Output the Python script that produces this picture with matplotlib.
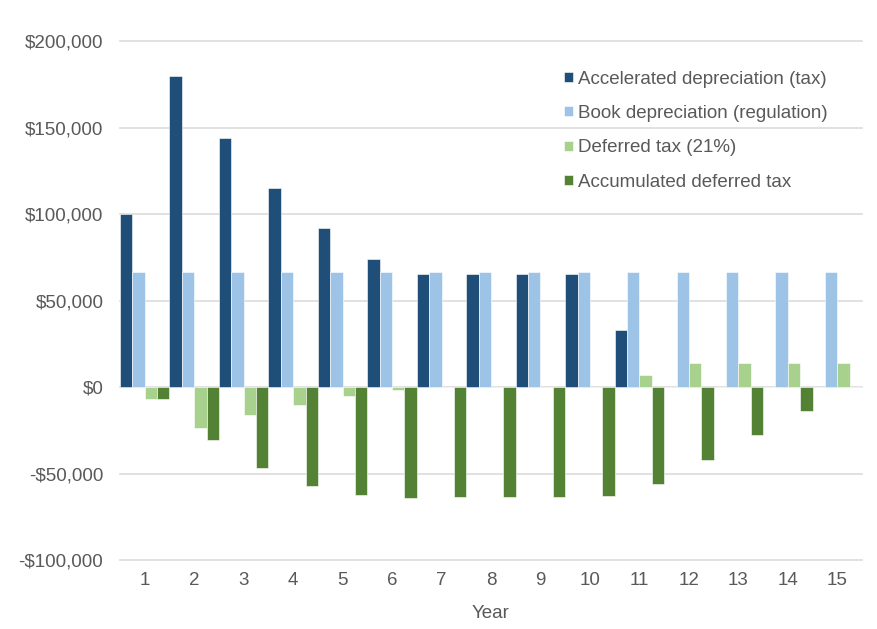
import numpy as np
import matplotlib.pyplot as plt
from matplotlib.ticker import FuncFormatter

years = list(range(1, 16))
accelerated = [100000, 180000, 144000, 115200, 92160, 73730, 65540, 65540,
               65610, 65540, 32770, 0, 0, 0, 0]
book = [66667] * 15
deferred = [-7000, -23800, -16240, -10190, -5350, -1480, 240, 240, 220, 240,
            7110, 14000, 14000, 14000, 14000]
accumulated = [-7000, -30800, -47040, -57230, -62590, -64070, -63830, -63590,
               -63370, -63130, -56020, -42020, -28020, -14020, 0]

labels = ["Accelerated depreciation (tax)", "Book depreciation (regulation)",
          "Deferred tax (21%)", "Accumulated deferred tax"]
colors = ["#1f4e79", "#9dc3e6", "#a9d18e", "#548235"]
series = [accelerated, book, deferred, accumulated]

plt.rcParams['font.family'] = ['Liberation Sans', 'DejaVu Sans']
txt = "#595959"
fs = 13.5

fig = plt.figure(figsize=(8.78, 6.29), dpi=100)
ax = fig.add_axes([0.1367, 0.1097, 0.8451, 0.8251])

x = np.array(years)
w = 0.25
for i, (vals, lab, c) in enumerate(zip(series, labels, colors)):
    ax.bar(x - 0.375 + i * w, vals, width=w, color=c, label=lab,
           edgecolor='white', linewidth=0.4, zorder=3)

ax.set_xlim(0.5, 15.5)
ax.set_ylim(-100000, 200000)
ax.set_yticks(range(-100000, 200001, 50000))
ax.yaxis.set_major_formatter(FuncFormatter(
    lambda v, p: ("-" if v < 0 else "") + "${:,.0f}".format(abs(v))))
ax.set_xticks(x)
ax.grid(axis='y', color='#dcdcdc', linewidth=1.2, zorder=0)
for gl in ax.get_ygridlines():
    gl.set_clip_on(False)
for s in ax.spines.values():
    s.set_visible(False)
ax.tick_params(length=0, labelsize=fs, labelcolor=txt)
ax.tick_params(axis='y', pad=12)
ax.tick_params(axis='x', pad=9)
ax.set_xlabel("Year", fontsize=fs, color=txt, labelpad=11)

leg = ax.legend(loc='upper left', bbox_to_anchor=(0.576, 0.975), frameon=False,
                fontsize=fs, handlelength=0.45, handleheight=0.45,
                handletextpad=0.3, labelspacing=0.92)
for t in leg.get_texts():
    t.set_color(txt)

fig.savefig("out.png", dpi=100)
